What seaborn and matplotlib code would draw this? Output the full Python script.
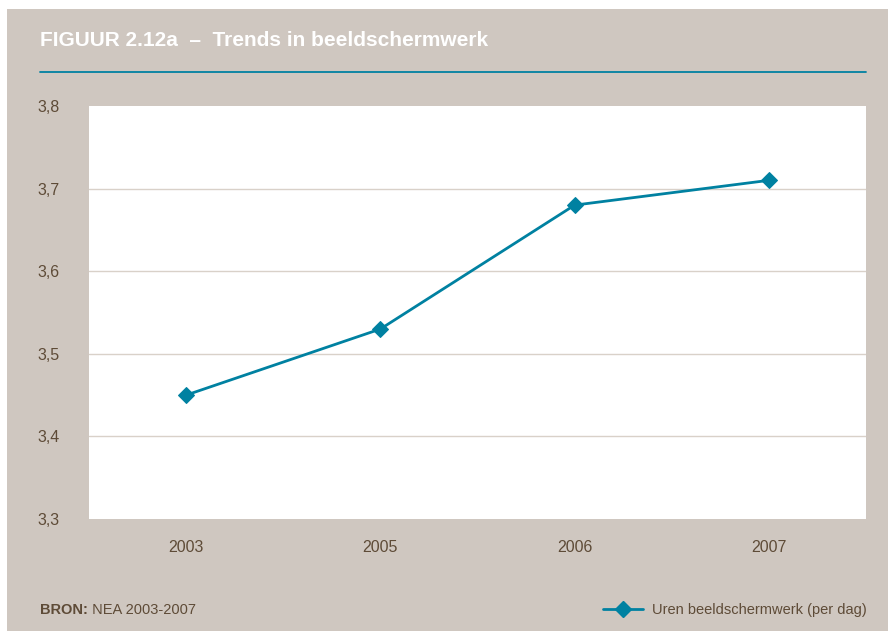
"""Figuur 2.12a - Trends in beeldschermwerk."""
import matplotlib
matplotlib.use("Agg")
import matplotlib.pyplot as plt
from matplotlib.patches import Rectangle
from matplotlib.lines import Line2D
import seaborn as sns
import pandas as pd

years = ["2003", "2005", "2006", "2007"]
hours = [3.45, 3.53, 3.68, 3.71]
y_ticks = [3.3, 3.4, 3.5, 3.6, 3.7, 3.8]
y_labels = ["3,3", "3,4", "3,5", "3,6", "3,7", "3,8"]
series_name = "Uren beeldschermwerk (per dag)"

BEIGE = "#cfc7c0"
TEAL = "#0081a1"
BROWN = "#5e4b37"
GRID = "#d9d1c9"

sns.set_theme(style="white")
plt.rcParams["font.family"] = ["Liberation Sans", "DejaVu Sans"]

W, H = 891, 631
fig = plt.figure(figsize=(W / 100, H / 100), dpi=100, facecolor="white")

# beige panel behind everything
fig.patches.append(Rectangle((7 / W, 0), (888 - 7) / W, (631 - 9) / H,
                             transform=fig.transFigure, facecolor=BEIGE,
                             edgecolor="none", zorder=-10))

ax = fig.add_axes([89 / W, (H - 519) / H, (866 - 89) / W, (519 - 106) / H])
ax.set_zorder(1)
ax.set_facecolor("white")

df = pd.DataFrame({"jaar": years, "uren": hours})
sns.lineplot(data=df, x="jaar", y="uren", ax=ax, color=TEAL, linewidth=2,
             marker="D", markersize=8, markeredgecolor=TEAL, sort=False)

ax.set_xlim(-0.5, len(years) - 0.5)
ax.set_ylim(3.3, 3.8)
ax.set_yticks(y_ticks)
ax.set_yticklabels(y_labels)
ax.set_xlabel("")
ax.set_ylabel("")
for v in y_ticks[1:-1]:
    ax.axhline(v, color=GRID, linewidth=1, zorder=0)
for s in ax.spines.values():
    s.set_visible(False)
ax.tick_params(axis="both", length=0, labelsize=11.5, colors=BROWN)
ax.tick_params(axis="x", pad=15)
for lbl in ax.get_yticklabels():
    lbl.set_horizontalalignment("left")
ax.yaxis.set_tick_params(pad=37)

# header
fig.text(40 / W, (H - 40) / H, "FIGUUR 2.12a  \u2013  Trends in beeldschermwerk",
         color="white", fontsize=15, fontweight="bold",
         va="center", ha="left")
fig.add_artist(Line2D([40 / W, 866 / W], [(H - 72) / H] * 2, color=TEAL,
                      linewidth=1.3, transform=fig.transFigure))

# footer
bron = fig.text(40 / W, (H - 610) / H, "BRON:", color=BROWN, fontsize=10.5,
                fontweight="bold", va="center", ha="left")
ax.annotate(" NEA 2003-2007", xy=(1, 0.5), xycoords=bron, color=BROWN,
            fontsize=10.5, va="center", ha="left", annotation_clip=False)

handle = Line2D([], [], color=TEAL, linewidth=2, marker="D", markersize=8)
leg = fig.legend([handle], [series_name], loc="center right",
                 bbox_to_anchor=(880 / W, (H - 610) / H), frameon=False,
                 handlelength=2.8, handletextpad=0.6,
                 prop={"size": 10.5})
for t in leg.get_texts():
    t.set_color(BROWN)

fig.savefig("out.png", dpi=100, facecolor="white")
